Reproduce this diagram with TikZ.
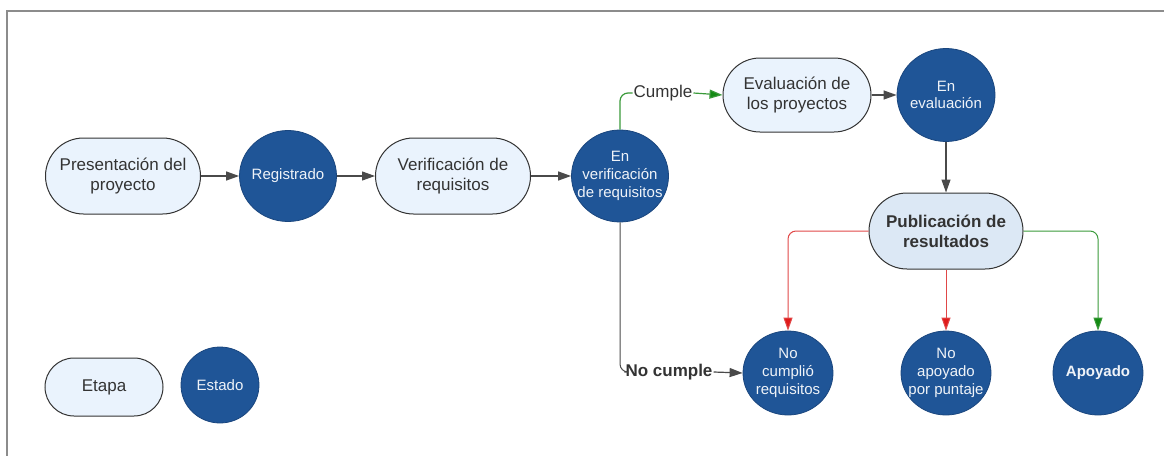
\documentclass[tikz,border=0pt]{standalone}
\usepackage{fontspec}
\setmainfont{Liberation Sans}
\usetikzlibrary{shapes.misc,shapes.geometric,arrows.meta}
\definecolor{stagefill}{HTML}{EAF3FD}
\definecolor{pubfill}{HTML}{DCE8F5}
\definecolor{statefill}{HTML}{1F5597}
\definecolor{stateedge}{HTML}{1A467E}
\definecolor{txt}{HTML}{333333}
\definecolor{linegray}{HTML}{4A4A4A}
\definecolor{redline}{HTML}{E04848}
\definecolor{redhead}{HTML}{E01A1A}
\definecolor{greenline}{HTML}{3A9A3A}
\definecolor{greenhead}{HTML}{138A13}
\definecolor{framegray}{HTML}{8C8C8C}
\tikzset{
  stagebox/.style={rounded rectangle, draw=txt, line width=1pt, fill=stagefill,
    inner sep=0pt, align=center, text=txt,
    font=\fontsize{17}{19.5}\selectfont},
  statecirc/.style={ellipse, draw=stateedge, line width=0.8pt, fill=statefill,
    inner sep=0pt},
  statetext/.style={inner sep=0pt, align=center, text=white!93!statefill,
    font=\fontsize{15}{17.7}\selectfont},
  conn/.style={draw=linegray, line width=1.2pt, rounded corners=8pt},
  tip/.style={-{Triangle[length=13pt,width=9pt]}},
  lbl/.style={inner sep=1pt, text=txt, font=\fontsize{17}{19}\selectfont}
}
\begin{document}
\begin{tikzpicture}[x=1pt,y=-1pt]
\useasboundingbox (0,0) rectangle (1164,455);
\draw[framegray, line width=2pt] (7,460) -- (7,11) -- (1170,11);

% stages
\node[stagebox, minimum width=155pt, minimum height=76pt] (pres) at (123,176) {Presentación del\\proyecto};
\node[stagebox, minimum width=155pt, minimum height=76pt] (verif) at (453,176) {Verificación de\\requisitos};
\node[stagebox, minimum width=148pt, minimum height=74pt] (eval) at (797,95) {Evaluación de\\los proyectos};
\node[stagebox, fill=pubfill, minimum width=154pt, minimum height=76pt, font=\fontsize{17}{20}\selectfont\bfseries] (pub) at (946,231) {Publicación de\\resultados};
\node[stagebox, minimum width=118pt, minimum height=58pt] (etapa) at (104,387) {Etapa};

% states
\node[statecirc, minimum width=97pt, minimum height=91pt,
  label={[statetext]center:Registrado}] (reg) at (288,176) {};
\node[statecirc, minimum width=97pt, minimum height=92pt,
  label={[statetext]center:En\\verificación\\de requisitos}] (enver) at (620,176) {};
\node[statecirc, minimum width=98pt, minimum height=93pt,
  label={[statetext]center:En\\evaluación}] (eneval) at (946,95) {};
\node[statecirc, minimum width=90pt, minimum height=84pt,
  label={[statetext]center:No\\cumplió\\requisitos}] (nocump) at (788,373) {};
\node[statecirc, minimum width=90pt, minimum height=84pt,
  label={[statetext]center:No\\apoyado\\por puntaje}] (noapo) at (946,373) {};
\node[statecirc, minimum width=90pt, minimum height=84pt,
  label={[statetext, font=\fontsize{15}{17.7}\selectfont\bfseries]center:Apoyado}] (apo) at (1098,373) {};
\node[statecirc, minimum width=78pt, minimum height=76pt,
  label={[statetext]center:Estado}] (estado) at (220,385) {};

% labels
\node[lbl] (cumple) at (663,93) {Cumple};
\node[lbl, font=\fontsize{17}{19}\selectfont\bfseries] (nocumple) at (669,372) {No cumple};

% connectors
\draw[conn, tip, fill=linegray] (pres.east) -- (reg.west);
\draw[conn, tip, fill=linegray] (reg.east) -- (verif.west);
\draw[conn, tip, fill=linegray] (verif.east) -- (enver.west);
\draw[conn, draw=greenline] (enver.north) |- (cumple.west);
\draw[conn, draw=greenline, -{Triangle[length=13pt,width=9pt,fill=greenhead]}] (cumple.east) -- (eval.west);
\draw[conn, tip, fill=linegray] (eval.east) -- (eneval.west);
\draw[conn, tip, fill=linegray] (eneval.south) -- (pub.north);
\draw[conn, line width=1pt] (enver.south) |- (nocumple.west);
\draw[conn, tip, fill=linegray] (nocumple.east) -- (nocump.west);
\draw[conn, line width=1pt, draw=redline, -{Triangle[length=13pt,width=9pt,fill=redhead]}] (pub.west) -| (nocump.north);
\draw[conn, line width=1pt, draw=redline, -{Triangle[length=13pt,width=9pt,fill=redhead]}] (pub.south) -- (noapo.north);
\draw[conn, line width=1pt, draw=greenline, -{Triangle[length=13pt,width=9pt,fill=greenhead]}] (pub.east) -| (apo.north);
\end{tikzpicture}
\end{document}
